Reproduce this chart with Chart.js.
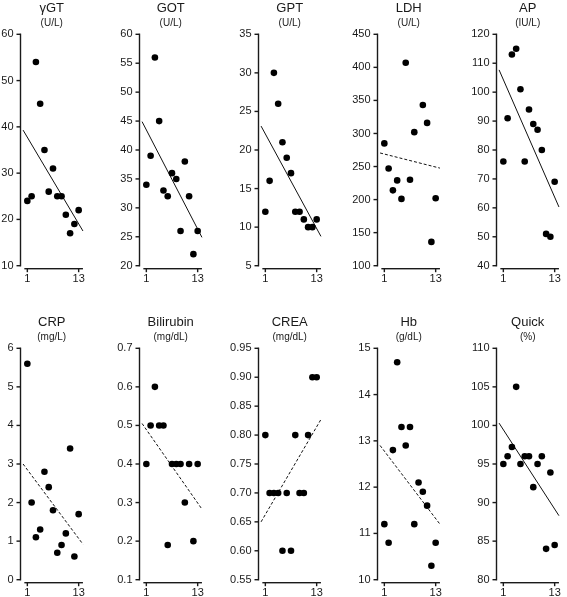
<!DOCTYPE html>
<html>
<head>
<meta charset="utf-8">
<script src="https://cdn.jsdelivr.net/npm/chart.js@4.4.1/dist/chart.umd.min.js"></script>
<style>
  body { margin: 0; background: #fff; }
  #wrap { position: relative; width: 567px; height: 597px; overflow: hidden; }
  #wrap canvas { position: absolute; }
</style>
</head>
<body>
<div id="wrap"></div>
<script>
// x = time point, 13 per panel
const timePoints = [1, 2, 3, 4, 5, 6, 7, 8, 9, 10, 11, 12, 13];
const xTickValues = [1, 13];

const titles = ['γGT', 'GOT', 'GPT', 'LDH', 'AP', 'CRP', 'Bilirubin', 'CREA', 'Hb', 'Quick'];
const units = ['(U/L)', '(U/L)', '(U/L)', '(U/L)', '(IU/L)', '(mg/L)', '(mg/dL)', '(mg/dL)', '(g/dL)', '(%)'];

// values (null = no point)
const gammaGT   = [24, 25, 54, 45, 35, 26, 31, 25, 25, 21, 17, 19, 22];
const got       = [34, 39, 56, 45, 33, 32, 36, 35, 26, 38, 32, 22, 26];
const gpt       = [12, 16, 30, 26, 21, 19, 17, 12, 12, 11, 10, 10, 11];
const ldh       = [285, 247, 214, 229, 201, 407, 230, 302, null, 343, 316, 136, 202];
const ap        = [76, 91, 113, 115, 101, 76, 94, 89, 87, 80, 51, 50, 69];
const crp       = [5.6, 2.0, 1.1, 1.3, 2.8, 2.4, 1.8, 0.7, 0.9, 1.2, 3.4, 0.6, 1.7];
const bilirubin = [0.4, 0.5, 0.6, 0.5, 0.5, 0.19, 0.4, 0.4, 0.4, 0.3, 0.4, 0.2, 0.4];
const crea      = [0.8, 0.7, 0.7, 0.7, 0.6, 0.7, 0.6, 0.8, 0.7, 0.7, 0.8, 0.9, 0.9];
const hb        = [11.2, 10.8, 12.8, 14.7, 13.3, 12.9, 13.3, 11.2, 12.1, 11.9, 11.6, 10.3, 10.8];
const quick     = [95, 96, 97.2, 105, 95, 96, 96, 92, 95, 96, 84, 93.9, 84.5];

const series = [gammaGT, got, gpt, ldh, ap, crp, bilirubin, crea, hb, quick];

const yMin = [10, 20, 5, 100, 40, 0, 0.1, 0.55, 10, 80];
const yMax = [60, 60, 35, 450, 120, 6, 0.7, 0.95, 15, 110];
const yStep = [10, 5, 5, 50, 10, 1, 0.1, 0.05, 1, 5];
const yDecimals = [0, 0, 0, 0, 0, 0, 1, 2, 0, 0];

// trend lines, value at x = 0 and at x = 14
const trendX = [0, 14];
const trendStart = [39.3, 44.9, 23.1, 270.5, 107.7, 3.0, 0.505, 0.65, 12.9, 100.3];
const trendEnd = [17.5, 24.9, 8.8, 247.6, 60.3, 0.92, 0.283, 0.827, 11.2, 88.3];
const trendDashed = [false, false, false, true, false, true, true, true, true, false];

// layout
const FONT = 'Arial, "Liberation Sans", sans-serif';
const INK = '#1a1a1a';
const canvasW = 104, canvasH = 283;
const colLeft = [-12, 107, 226, 345, 464];
const rowTop = [0, 314];
const AXIS_W = 1.4;

// Prism-like axes: y axis with ticks on the left, x axis detached a bit below the plot
const axesPlugin = {
    id: 'axesPlugin',
    afterDraw(chart) {
        const { ctx, chartArea: a, scales } = chart;
        const x = scales.x, y = scales.y;
        const h = AXIS_W / 2;
        ctx.save();
        ctx.fillStyle = INK;
        // y axis + ticks
        ctx.fillRect(a.left - h, a.top - h, AXIS_W, a.bottom - a.top + AXIS_W);
        y.ticks.forEach(t => {
            const py = y.getPixelForValue(t.value);
            ctx.fillRect(a.left - 4, py - h, 4, AXIS_W);
        });
        // x axis + ticks
        const yy = a.bottom + 3;
        const x0 = x.getPixelForValue(0.3), x1 = x.getPixelForValue(14);
        ctx.fillRect(x0, yy - h, x1 - x0, AXIS_W);
        xTickValues.forEach(v => {
            const px = x.getPixelForValue(v);
            ctx.fillRect(px - h, yy, AXIS_W, 3.5);
        });
        ctx.restore();
    }
};

const wrap = document.getElementById('wrap');

series.forEach((values, i) => {
    const canvas = document.createElement('canvas');
    canvas.width = canvasW;
    canvas.height = canvasH;
    canvas.style.left = colLeft[i % 5] + 'px';
    canvas.style.top = rowTop[Math.floor(i / 5)] + 'px';
    wrap.appendChild(canvas);

    const points = [];
    values.forEach((v, k) => {
        if (v !== null) points.push({ x: timePoints[k], y: v });
    });

    new Chart(canvas, {
        type: 'scatter',
        data: {
            datasets: [
                {
                    data: points,
                    backgroundColor: '#000',
                    borderWidth: 0,
                    pointRadius: 3.3,
                    clip: false
                },
                {
                    type: 'line',
                    data: [{ x: trendX[0], y: trendStart[i] }, { x: trendX[1], y: trendEnd[i] }],
                    borderColor: '#111',
                    borderWidth: 1,
                    borderDash: trendDashed[i] ? [3, 2] : [],
                    pointRadius: 0,
                    fill: false,
                    clip: false
                }
            ]
        },
        options: {
            responsive: false,
            animation: false,
            devicePixelRatio: 1,
            layout: { padding: { left: 0, right: 3, top: 0, bottom: 0 } },
            plugins: {
                legend: { display: false },
                tooltip: { enabled: false },
                title: {
                    display: true,
                    text: titles[i],
                    fullSize: false,
                    color: INK,
                    font: { family: FONT, size: 13, weight: 'normal', lineHeight: 0.8 },
                    padding: { top: 3, bottom: 0 }
                },
                subtitle: {
                    display: true,
                    text: units[i],
                    fullSize: false,
                    color: INK,
                    font: { family: FONT, size: 10, lineHeight: 1.2 },
                    padding: { top: 3.5, bottom: 5.4 }
                }
            },
            scales: {
                x: {
                    type: 'linear',
                    min: -0.6,
                    max: 14,
                    grid: { display: false, drawTicks: false },
                    border: { display: false },
                    afterBuildTicks: (scale) => {
                        scale.ticks = xTickValues.map(v => ({ value: v }));
                    },
                    afterFit: (scale) => { scale.height = 17.3; },
                    ticks: {
                        color: INK,
                        font: { family: FONT, size: 11 },
                        padding: 6.6,
                        maxRotation: 0,
                        autoSkip: false
                    }
                },
                y: {
                    min: yMin[i],
                    max: yMax[i],
                    grid: { display: false, drawTicks: false },
                    border: { display: false },
                    afterFit: (scale) => { scale.width = 32.5; },
                    ticks: {
                        stepSize: yStep[i],
                        color: INK,
                        padding: 7,
                        font: { family: FONT, size: 11 },
                        callback: (v) => Number(v).toFixed(yDecimals[i])
                    }
                }
            }
        },
        plugins: [axesPlugin]
    });
});
</script>
</body>
</html>
